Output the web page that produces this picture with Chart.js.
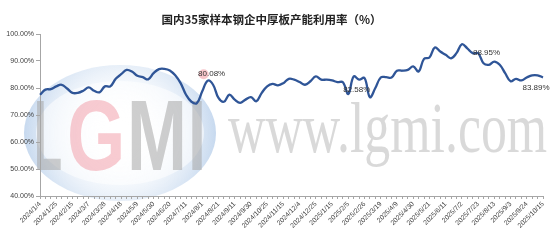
<!DOCTYPE html>
<html>
<head>
<meta charset="utf-8">
<script src="https://cdn.jsdelivr.net/npm/chart.js@4.4.0/dist/chart.umd.min.js"></script>
<style>
  html, body { margin: 0; padding: 0; background: #ffffff; }
  #wrap { width: 554px; height: 247px; position: relative; }
</style>
</head>
<body>
<div id="wrap"><canvas id="c" width="554" height="247"></canvas></div>
<script>
const chartTitle = "国内35家样本钢企中厚板产能利用率（%）";

const categories = [
  "2024/1/4","2024/1/11","2024/1/18","2024/1/25","2024/2/1","2024/2/8","2024/2/15","2024/2/22","2024/2/29","2024/3/7",
  "2024/3/14","2024/3/21","2024/3/28","2024/4/3","2024/4/11","2024/4/18","2024/4/25","2024/4/30","2024/5/9","2024/5/16",
  "2024/5/23","2024/5/30","2024/6/6","2024/6/13","2024/6/20","2024/6/27","2024/7/4","2024/7/11","2024/7/18","2024/7/25",
  "2024/8/1","2024/8/8","2024/8/15","2024/8/21","2024/8/28","2024/9/4","2024/9/11","2024/9/18","2024/9/25","2024/9/30",
  "2024/10/11","2024/10/18","2024/10/25","2024/11/1","2024/11/8","2024/11/15","2024/11/22","2024/11/27","2024/12/4","2024/12/11",
  "2024/12/18","2024/12/25","2025/1/1","2025/1/8","2025/1/15","2025/1/22","2025/1/26","2025/2/5","2025/2/12","2025/2/19",
  "2025/2/26","2025/3/5","2025/3/12","2025/3/19","2025/3/26","2025/4/2","2025/4/9","2025/4/16","2025/4/23","2025/4/30",
  "2025/5/7","2025/5/14","2025/5/21","2025/5/28","2025/6/4","2025/6/11","2025/6/18","2025/6/25","2025/7/2","2025/7/9",
  "2025/7/16","2025/7/23","2025/7/30","2025/8/6","2025/8/13","2025/8/20","2025/8/27","2025/9/3","2025/9/10","2025/9/17",
  "2025/9/24","2025/9/30","2025/10/9","2025/10/15"
];

const utilization = [
  77.5, 79.4, 79.6, 80.6, 81.2, 79.8, 78.2, 78.2, 79.0, 80.2,
  79.0, 78.4, 80.6, 80.6, 83.4, 85.1, 86.7, 86.1, 84.5, 84.0,
  83.2, 85.5, 87.0, 87.1, 86.5, 84.7, 81.8, 77.5, 74.9, 74.4,
  78.8, 82.7, 81.2, 76.3, 74.9, 77.5, 75.7, 74.5, 75.7, 76.6,
  75.1, 78.2, 80.6, 81.5, 81.0, 81.8, 83.4, 83.1, 82.2, 81.2,
  82.5, 84.3, 83.1, 83.1, 82.8, 82.2, 82.1, 77.8, 84.3, 83.1,
  83.7, 76.6, 80.0, 83.9, 84.0, 83.9, 86.4, 86.4, 86.7, 88.0,
  86.1, 90.8, 91.3, 95.0, 93.5, 92.3, 91.0, 92.9, 96.2, 94.7,
  92.9, 92.9, 89.2, 88.6, 89.8, 88.6, 85.5, 82.5, 83.4, 82.8,
  83.9, 84.7, 84.7, 83.9
];

const yTicks = [40, 50, 60, 70, 80, 90, 100];

const noteIndex = [31, 58, 82, 93];
const noteText = ["80.08%", "82.58%", "88.95%", "83.89%"];

const labelEvery = 3;

// Watermark (background) plugin
const watermark = {
  id: 'watermark',
  beforeDraw(chart) {
    const ctx = chart.ctx;
    ctx.save();
    const cx = 120, cy = 133, rx = 96, ry = 68;
    const g = ctx.createRadialGradient(cx, cy, 10, cx, cy, rx);
    g.addColorStop(0, 'rgba(255,255,255,0.0)');
    g.addColorStop(0.55, 'rgba(222,233,246,0.45)');
    g.addColorStop(1, 'rgba(175,201,232,0.7)');
    ctx.beginPath();
    ctx.ellipse(cx, cy, rx, ry, 0, 0, Math.PI * 2);
    ctx.fillStyle = g;
    ctx.fill();
    ctx.beginPath();
    ctx.ellipse(cx, cy, rx - 12, ry - 16, 0, 0, Math.PI * 2);
    ctx.fillStyle = 'rgba(255,255,255,0.55)';
    ctx.fill();

    ctx.textBaseline = 'alphabetic';
    const letters = [
      {t: 'L', x: 34, s: 0.46, c: 'rgba(165,165,165,0.55)'},
      {t: 'G', x: 67, s: 0.75, c: 'rgba(240,140,152,0.45)'},
      {t: 'M', x: 127, s: 0.72, c: 'rgba(165,165,165,0.55)'},
      {t: 'I', x: 188, s: 0.65, c: 'rgba(165,165,165,0.55)'}
    ];
    letters.forEach(l => {
      ctx.save();
      ctx.translate(l.x, 170);
      ctx.scale(l.s, 1);
      ctx.font = 'bold 100px "Liberation Sans", Arial, sans-serif';
      ctx.fillStyle = l.c;
      ctx.fillText(l.t, 0, 0);
      ctx.restore();
    });

    ctx.save();
    ctx.translate(228, 152);
    ctx.scale(0.72, 1);
    ctx.font = '72px "Liberation Serif", "Times New Roman", serif';
    ctx.fillStyle = 'rgba(185,185,185,0.55)';
    ctx.fillText('www.lgmi.com', 0, 0);
    ctx.restore();
    ctx.restore();
  }
};

// Point notes plugin
const notes = {
  id: 'notes',
  afterDatasetsDraw(chart) {
    const ctx = chart.ctx;
    const xs = chart.scales.x, ys = chart.scales.y;
    const offs = [[4, -7], [3, 13], [3, -10.5], [-7, 10]];
    ctx.save();
    noteIndex.forEach((idx, k) => {
      const px = xs.getPixelForValue(idx);
      const py = ys.getPixelForValue(utilization[idx]);
      const tx = px + offs[k][0], ty = py + offs[k][1];
      if (k === 0) {
        ctx.beginPath();
        ctx.arc(tx - 8, ty + 0.5, 5, 0, Math.PI * 2);
        ctx.fillStyle = 'rgba(240,150,160,0.55)';
        ctx.fill();
      }
      ctx.font = '8px "Liberation Sans", Arial, sans-serif';
      ctx.fillStyle = '#333333';
      ctx.textAlign = 'center';
      ctx.textBaseline = 'middle';
      ctx.fillText(noteText[k], tx, ty);
    });
    ctx.restore();
  }
};

new Chart(document.getElementById('c'), {
  type: 'line',
  data: {
    labels: categories,
    datasets: [{
      data: utilization,
      borderColor: '#2f5597',
      borderWidth: 2.3,
      pointRadius: 0,
      tension: 0.4,
      fill: false
    }]
  },
  options: {
    responsive: false,
    animation: false,
    layout: { padding: { left: 0, right: 11, top: 0, bottom: 0 } },
    plugins: {
      legend: { display: false },
      tooltip: { enabled: false },
      title: {
        display: true,
        text: chartTitle,
        color: '#222222',
        font: { family: '"Noto Sans CJK SC", sans-serif', size: 11.5, weight: 'bold' },
        padding: { top: 13, bottom: 7.2 }
      }
    },
    scales: {
      x: {
        type: 'category',
        offset: false,
        afterFit(scale) { scale.height = 51; },
        grid: {
          display: true,
          drawOnChartArea: false,
          drawTicks: true,
          tickLength: 3,
          color: '#a6a6a6'
        },
        border: { display: true, color: '#a6a6a6', width: 1 },
        ticks: {
          autoSkip: false,
          maxRotation: 45,
          minRotation: 45,
          padding: 1,
          color: '#404040',
          font: { family: '"Liberation Sans", Arial, sans-serif', size: 6.8 },
          callback(v, i) { return i % labelEvery === 0 ? categories[i] : ''; }
        }
      },
      y: {
        min: yTicks[0],
        max: yTicks[yTicks.length - 1],
        afterFit(scale) { scale.width = 40; },
        afterBuildTicks(scale) { scale.ticks = yTicks.map(v => ({ value: v })); },
        grid: {
          display: true,
          drawOnChartArea: false,
          drawTicks: true,
          tickLength: 4,
          color: '#a6a6a6'
        },
        border: { display: true, color: '#a6a6a6', width: 1 },
        ticks: {
          padding: 2,
          color: '#404040',
          font: { family: '"Liberation Sans", Arial, sans-serif', size: 7 },
          callback(v) { return Number(v).toFixed(2) + '%'; }
        }
      }
    }
  },
  plugins: [watermark, notes]
});
</script>
</body>
</html>
